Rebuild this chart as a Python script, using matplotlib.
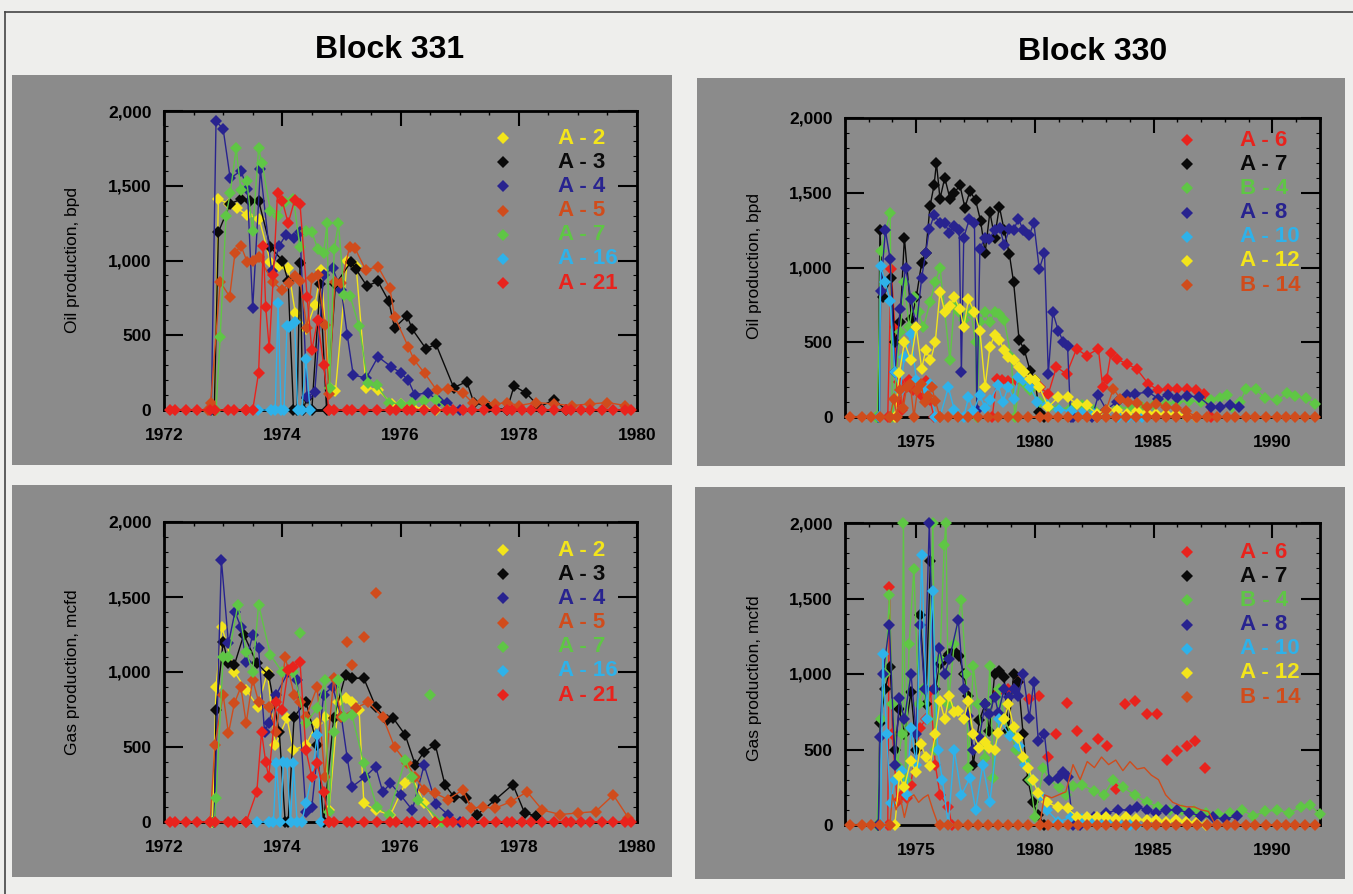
import matplotlib.pyplot as plt
from matplotlib.patches import Rectangle
from matplotlib.lines import Line2D
from matplotlib.ticker import MultipleLocator

plt.rcParams['font.family'] = ['Liberation Sans', 'DejaVu Sans']

# ---- colours of the wells
YEL = '#f3e51b'
BLK = '#0a0a0a'
NAV = '#28238f'
BRN = '#d04c1c'
GRN = '#5fc645'
CYN = '#2eb2ea'
RED = '#e8231d'

# ---- Block 331, oil (bpd)
a2_oil_t = [1972.85, 1972.92, 1973.1, 1973.23, 1973.41, 1973.61, 1973.8, 1973.95, 1974.1, 1974.22, 1974.41,
            1974.55, 1974.66, 1974.8, 1974.9, 1975.1, 1975.25, 1975.42, 1975.62, 1975.85, 1976.0, 1976.2, 1976.4, 1976.6]
a2_oil_v = [0, 1410, 1380, 1350, 1305, 1280, 990, 960, 950, 650, 545, 700, 935, 150, 130, 1000, 960, 147, 136, 40,
            40, 20, 10, 0]
a3_oil_t = [1972.85, 1972.92, 1973.12, 1973.3, 1973.45, 1973.6, 1973.8, 1974.0, 1974.1, 1974.19, 1974.25, 1974.3,
            1974.35, 1974.42, 1974.5, 1974.64, 1974.75, 1974.9, 1975.16, 1975.25, 1975.43, 1975.62, 1975.8, 1975.9,
            1976.11, 1976.2, 1976.43, 1976.6, 1976.9, 1977.12, 1977.24, 1977.5, 1977.8, 1977.92, 1978.12, 1978.35,
            1978.6, 1978.8]
a3_oil_v = [0, 1190, 1380, 1410, 1400, 1400, 1090, 1000, 860, 0, 0, 980, 0, 81, 0, 840, 0, 840, 990, 940, 830, 860,
            730, 550, 630, 540, 410, 440, 150, 190, 50, 20, 0, 160, 115, 20, 70, 0]
a4_oil_t = [1972.8, 1972.88, 1973.0, 1973.12, 1973.3, 1973.41, 1973.5, 1973.63, 1973.82, 1973.95, 1974.06, 1974.2,
            1974.3, 1974.42, 1974.55, 1974.7, 1974.85, 1975.0, 1975.1, 1975.2, 1975.42, 1975.62, 1975.84, 1976.0,
            1976.13, 1976.24, 1976.46, 1976.65, 1976.79, 1977.0]
a4_oil_v = [0, 1932, 1880, 1550, 1600, 1480, 680, 1610, 930, 1100, 1170, 1150, 1190, 88, 120, 900, 950, 800, 500,
            235, 213, 356, 290, 250, 200, 103, 114, 60, 48, 0]
a5_oil_t = [1972.75, 1972.79, 1972.95, 1973.11, 1973.2, 1973.3, 1973.41, 1973.5, 1973.6, 1973.84, 1974.0, 1974.11,
            1974.21, 1974.3, 1974.42, 1974.5, 1974.6, 1974.72, 1974.79, 1974.89, 1975.0, 1975.14, 1975.23, 1975.41,
            1975.62, 1975.82, 1975.9, 1976.13, 1976.23, 1976.41, 1976.61, 1976.8, 1977.06, 1977.23, 1977.4, 1977.6,
            1977.8, 1978.0, 1978.3, 1978.6, 1978.9, 1979.2, 1979.5, 1979.8]
a5_oil_v = [0, 50, 858, 758, 1048, 1100, 988, 1000, 1026, 858, 800, 847, 896, 860, 546, 880, 900, 570, 110, 858,
            850, 1093, 1082, 937, 959, 814, 625, 424, 335, 245, 134, 140, 112, 45, 60, 40, 50, 30, 50, 40, 30, 40,
            50, 30]
a7_oil_t = [1972.88, 1972.95, 1973.05, 1973.12, 1973.22, 1973.3, 1973.4, 1973.5, 1973.6, 1973.66, 1973.8, 1973.92,
            1974.05, 1974.19, 1974.3, 1974.4, 1974.5, 1974.6, 1974.7, 1974.76, 1974.8, 1974.88, 1974.95, 1975.05,
            1975.15, 1975.3, 1975.45, 1975.6, 1975.8, 1976.0, 1976.2, 1976.4, 1976.6, 1976.8]
a7_oil_v = [0, 490, 1300, 1450, 1750, 1470, 1530, 1200, 1750, 1650, 1330, 1300, 1390, 1410, 1090, 1200, 1190, 1080,
            1050, 1250, 150, 1080, 1250, 770, 760, 560, 180, 170, 50, 40, 50, 60, 70, 0]
a16_oil_t = [1973.59, 1973.81, 1973.88, 1973.93, 1973.98, 1974.03, 1974.08, 1974.12, 1974.21, 1974.26, 1974.33,
             1974.4, 1974.47]
a16_oil_v = [0, 0, 0, 713, 0, 0, 560, 557, 590, 0, 0, 340, 0]
a21_oil_t = [1973.39, 1973.5, 1973.6, 1973.68, 1973.72, 1973.78, 1973.85, 1973.92, 1974.0, 1974.1, 1974.21, 1974.3,
             1974.42, 1974.5, 1974.6, 1974.7, 1974.79]
a21_oil_v = [0, 0, 250, 1100, 690, 412, 900, 1449, 1400, 1249, 1405, 1380, 758, 400, 602, 300, 0]

# ---- Block 331, gas (mcfd)
a2_gas_t = [1972.82, 1972.88, 1972.98, 1973.19, 1973.39, 1973.59, 1973.75, 1973.88, 1974.08, 1974.19, 1974.4,
            1974.59, 1974.72, 1974.79, 1974.95, 1975.07, 1975.18, 1975.3, 1975.38, 1975.58, 1975.83, 1976.08, 1976.2,
            1976.4, 1976.6]
a2_gas_v = [0, 902, 1300, 1002, 880, 769, 1000, 513, 691, 480, 513, 658, 700, 80, 800, 824, 802, 750, 124, 80, 47,
            258, 302, 124, 0]
a3_gas_t = [1972.85, 1972.88, 1973.0, 1973.09, 1973.19, 1973.35, 1973.57, 1973.77, 1973.95, 1974.05, 1974.1, 1974.2,
            1974.4, 1974.59, 1974.7, 1974.87, 1975.07, 1975.18, 1975.38, 1975.58, 1975.77, 1975.88, 1976.08, 1976.25,
            1976.4, 1976.59, 1976.75, 1976.9, 1977.1, 1977.3, 1977.6, 1977.9, 1978.1, 1978.3]
a3_gas_v = [0, 747, 1200, 1058, 1047, 1250, 1058, 980, 600, 0, 0, 700, 802, 513, 0, 691, 980, 958, 958, 769, 680,
            691, 580, 380, 469, 513, 250, 169, 160, 50, 147, 250, 60, 40]
a4_gas_t = [1972.85, 1972.97, 1973.09, 1973.2, 1973.3, 1973.39, 1973.5, 1973.6, 1973.7, 1973.77, 1973.9, 1974.1,
            1974.25, 1974.4, 1974.5, 1974.7, 1974.85, 1975.0, 1975.1, 1975.18, 1975.4, 1975.58, 1975.7, 1975.83,
            1976.0, 1976.2, 1976.4, 1976.6, 1976.8, 1977.0]
a4_gas_v = [0, 1750, 1191, 1400, 1300, 1069, 1250, 1158, 600, 658, 850, 1000, 950, 69, 100, 850, 900, 700, 424,
            235, 300, 369, 200, 258, 180, 80, 380, 120, 50, 0]
a5_gas_t = [1972.78, 1972.86, 1973.0, 1973.09, 1973.19, 1973.3, 1973.39, 1973.5, 1973.6, 1973.77, 1973.9, 1974.05,
            1974.2, 1974.3, 1974.4, 1974.59, 1974.72, 1974.87, 1975.0, 1975.25, 1975.45, 1975.7, 1975.9, 1976.11,
            1976.25, 1976.4, 1976.59, 1976.8, 1977.05, 1977.2, 1977.4, 1977.6, 1977.87, 1978.14, 1978.4, 1978.7,
            1979.0, 1979.3, 1979.6, 1979.85]
a5_gas_v = [0, 513, 850, 591, 791, 900, 658, 950, 800, 770, 600, 1100, 850, 800, 700, 900, 300, 958, 700, 760, 800,
            700, 500, 391, 300, 213, 191, 150, 213, 92, 100, 92, 136, 202, 80, 50, 60, 70, 180, 30]
a5_gas_pts_t = [1975.1, 1975.18, 1975.38, 1975.58]
a5_gas_pts_v = [1202, 1047, 1236, 1524]
a7_gas_t = [1972.85, 1972.88, 1973.0, 1973.09, 1973.25, 1973.39, 1973.5, 1973.6, 1973.8, 1974.0, 1974.19, 1974.4,
            1974.59, 1974.72, 1974.79, 1974.87, 1974.95, 1975.05, 1975.18, 1975.38, 1975.6, 1975.8, 1976.08, 1976.2,
            1976.3, 1976.7]
a7_gas_v = [0, 158, 1100, 1102, 1450, 1135, 1000, 1450, 1113, 1000, 1000, 658, 758, 950, 69, 602, 950, 700, 713,
            391, 100, 50, 413, 300, 150, 0]
a7_gas_pts_t = [1974.3, 1976.5]
a7_gas_pts_v = [1257, 844]
a16_gas_t = [1973.57, 1973.77, 1973.85, 1973.9, 1973.97, 1974.02, 1974.08, 1974.14, 1974.19, 1974.25, 1974.33,
             1974.4, 1974.5, 1974.59, 1974.66]
a16_gas_v = [0, 0, 0, 391, 0, 400, 391, 0, 391, 0, 0, 124, 300, 580, 0]
a21_gas_t = [1973.39, 1973.57, 1973.65, 1973.72, 1973.77, 1973.9, 1974.0, 1974.1, 1974.19, 1974.3, 1974.4, 1974.5,
             1974.59, 1974.7, 1974.79]
a21_gas_v = [0, 202, 600, 400, 302, 802, 750, 1013, 1035, 1070, 480, 300, 391, 200, 0]

# ---- Block 330, oil (bpd)
a6_oil_t = [1973.8, 1973.94, 1974.1, 1974.2, 1974.29, 1974.4, 1974.55, 1974.7, 1974.85, 1975.0, 1975.2, 1975.4,
            1975.58, 1975.75, 1978.2, 1978.39, 1978.6, 1978.88, 1979.2, 1979.5, 1979.8, 1980.2, 1980.56, 1980.9,
            1981.33, 1981.75, 1982.17, 1982.67, 1982.85, 1983.02, 1983.2, 1983.44, 1983.86, 1984.28, 1984.77, 1985.2,
            1985.6, 1985.96, 1986.4, 1986.8, 1987.1, 1987.4]
a6_oil_v = [0, 993, 600, 100, 233, 50, 200, 250, 180, 230, 150, 240, 111, 0, 0, 255, 250, 244, 250, 260, 240, 200,
            155, 333, 289, 455, 411, 455, 200, 255, 430, 389, 355, 322, 222, 178, 189, 189, 189, 180, 157, 0]
a7b_oil_t = [1973.4, 1973.47, 1973.6, 1973.94, 1974.1, 1974.32, 1974.5, 1974.8, 1975.0, 1975.23, 1975.4, 1975.58,
             1975.75, 1975.85, 1976.0, 1976.2, 1976.42, 1976.6, 1976.84, 1977.05, 1977.26, 1977.5, 1977.71, 1977.9,
             1978.1, 1978.3, 1978.5, 1978.7, 1978.92, 1979.1, 1979.33, 1979.55, 1979.79, 1980.0, 1980.18, 1980.4]
a7b_oil_v = [0, 1250, 800, 929, 500, 638, 1200, 656, 800, 1033, 1100, 1411, 1550, 1700, 1460, 1600, 1460, 1500,
             1549, 1400, 1511, 1450, 1311, 1100, 1371, 1200, 1407, 1250, 1089, 900, 516, 450, 311, 250, 33, 0]
b4_oil_t = [1973.3, 1973.36, 1973.5, 1973.9, 1974.0, 1974.32, 1974.5, 1974.7, 1974.9, 1975.1, 1975.3, 1975.58,
            1975.8, 1976.0, 1976.2, 1976.42, 1976.6, 1976.8, 1977.0, 1977.3, 1977.5, 1977.55, 1977.68, 1977.9, 1978.1,
            1978.3, 1978.5, 1978.7, 1979.0, 1979.15, 1979.37, 1979.6, 1979.8, 1980.2, 1980.6, 1980.98, 1981.5, 1982.0,
            1982.5, 1983.0, 1983.5, 1984.0, 1984.5, 1985.0, 1985.5, 1986.0, 1986.5, 1987.0, 1987.4, 1987.8, 1988.1,
            1988.3, 1988.63, 1988.9, 1989.3, 1989.7, 1990.2, 1990.6, 1990.95, 1991.4, 1991.8]
b4_oil_v = [0, 0, 1111, 1367, 0, 567, 900, 600, 800, 700, 600, 767, 900, 1000, 700, 378, 750, 700, 650, 700, 500,
            0, 633, 700, 633, 700, 689, 650, 400, 0, 255, 220, 180, 100, 70, 56, 60, 80, 50, 40, 60, 60, 70, 80, 90,
            100, 110, 100, 113, 130, 147, 70, 103, 190, 185, 124, 114, 158, 141, 125, 88]
a8_oil_t = [1973.45, 1973.5, 1973.7, 1973.9, 1974.1, 1974.32, 1974.55, 1974.78, 1975.0, 1975.23, 1975.4, 1975.55,
            1975.75, 1976.0, 1976.2, 1976.4, 1976.6, 1976.81, 1976.9, 1977.0, 1977.24, 1977.45, 1977.55, 1977.68,
            1977.9, 1978.08, 1978.3, 1978.52, 1978.7, 1978.92, 1979.1, 1979.3, 1979.5, 1979.76, 1979.95, 1980.18,
            1980.4, 1980.56, 1980.75, 1980.98, 1981.2, 1981.37, 1981.5, 1981.6, 1982.4, 1982.67, 1983.0, 1983.44,
            1983.86, 1984.2, 1984.77, 1985.2, 1985.6, 1986.0, 1986.4, 1986.9, 1987.4, 1987.8, 1988.2, 1988.6]
a8_oil_v = [0, 844, 1250, 1055, 300, 722, 1000, 789, 600, 933, 1100, 1255, 1350, 1300, 1300, 1229, 1280, 1251, 300,
            1200, 1326, 1300, 50, 1127, 1200, 1193, 1250, 1267, 1150, 1260, 1250, 1326, 1250, 1215, 1300, 989, 1100,
            289, 700, 578, 500, 478, 0, 0, 0, 144, 50, 100, 144, 155, 167, 122, 150, 130, 140, 135, 70, 70, 80, 70]
a10_oil_t = [1973.45, 1973.5, 1973.7, 1973.9, 1974.1, 1974.32, 1974.5, 1974.78, 1975.0, 1975.23, 1975.4, 1975.6,
             1975.8, 1976.0, 1976.35, 1976.6, 1976.8, 1977.0, 1977.2, 1977.4, 1977.68, 1977.9, 1978.1, 1978.45,
             1978.65, 1978.87, 1979.1, 1979.3, 1979.5, 1979.8, 1980.1, 1980.5, 1981.0, 1981.5, 1982.0, 1982.5, 1983.0,
             1983.5, 1983.9, 1984.2, 1984.5]
a10_oil_v = [0, 1007, 900, 778, 300, 171, 400, 556, 250, 200, 180, 220, 0, 0, 200, 50, 0, 0, 133, 40, 144, 60, 111,
             211, 100, 200, 120, 267, 250, 200, 100, 80, 50, 40, 30, 20, 10, 0, 0, 0, 0]
a12_oil_t = [1974.1, 1974.29, 1974.5, 1974.78, 1975.0, 1975.23, 1975.4, 1975.6, 1975.8, 1976.0, 1976.2, 1976.42,
             1976.6, 1976.84, 1977.0, 1977.2, 1977.45, 1977.68, 1977.9, 1978.1, 1978.3, 1978.5, 1978.7, 1978.88,
             1979.1, 1979.34, 1979.55, 1979.79, 1980.0, 1980.18, 1980.56, 1980.98, 1981.37, 1981.75, 1982.17, 1982.6,
             1983.02, 1983.44, 1983.86, 1984.28, 1984.7, 1985.1, 1985.5, 1985.95, 1986.35, 1986.8]
a12_oil_v = [0, 295, 500, 378, 600, 322, 450, 378, 500, 838, 700, 744, 800, 722, 600, 789, 700, 578, 200, 467, 550,
             515, 450, 404, 380, 333, 300, 255, 250, 200, 67, 133, 133, 89, 78, 22, 50, 44, 20, 40, 30, 20, 20, 20,
             10, 0]
b14_oil_t = [1973.89, 1974.05, 1974.2, 1974.32, 1974.45, 1974.6, 1974.75, 1974.9, 1975.05, 1975.2, 1975.35, 1975.5,
             1975.65, 1975.8, 1976.0, 1982.6, 1983.0, 1983.3, 1983.6, 1983.9, 1984.3, 1984.7, 1985.1, 1985.5, 1985.95,
             1986.35, 1986.8]
b14_oil_v = [0, 120, 0, 180, 60, 200, 220, 0, 180, 220, 100, 140, 200, 110, 0, 0, 50, 190, 120, 100, 92, 70, 90, 70,
             60, 40, 0]

# ---- Block 330, gas (mcfd)
a6_gas_t = [1973.8, 1973.87, 1974.0, 1974.2, 1974.4, 1974.6, 1974.76, 1975.0, 1975.16, 1975.4, 1975.6, 1975.8,
            1976.0, 1976.35, 1976.5]
a6_gas_v = [0, 1573, 600, 150, 200, 180, 262, 500, 644, 700, 889, 400, 200, 120, 0]
a6_gas_pts_t = [1978.46, 1978.88, 1979.27, 1979.76, 1980.18, 1980.56, 1980.9, 1981.33, 1981.75, 1982.13, 1982.64,
                1983.02, 1983.4, 1983.79, 1984.2, 1984.7, 1985.12, 1985.54, 1985.96, 1986.39, 1986.74, 1987.15]
a6_gas_pts_v = [878, 900, 944, 833, 856, 449, 604, 811, 622, 507, 571, 522, 240, 804, 822, 738, 738, 433, 489, 522,
                556, 378]
a7b_gas_t = [1973.4, 1973.47, 1973.7, 1973.9, 1974.1, 1974.29, 1974.5, 1974.78, 1975.0, 1975.16, 1975.4, 1975.6,
             1975.8, 1976.0, 1976.2, 1976.39, 1976.6, 1976.81, 1977.0, 1977.19, 1977.4, 1977.66, 1977.9, 1978.08,
             1978.3, 1978.5, 1978.7, 1978.88, 1979.1, 1979.3, 1979.5, 1979.7, 1979.9, 1980.14, 1980.4]
a7b_gas_v = [0, 678, 900, 1044, 500, 771, 600, 878, 500, 1389, 800, 1751, 900, 1067, 1100, 1133, 1150, 1116, 1000,
             855, 400, 693, 800, 622, 1000, 1020, 980, 622, 1000, 950, 600, 300, 150, 67, 0]
b4_gas_t = [1973.35, 1973.5, 1973.7, 1973.87, 1974.0, 1974.2, 1974.4, 1974.46, 1974.55, 1974.7, 1974.9, 1975.1,
            1975.3, 1975.5, 1975.7, 1975.8, 1976.0, 1976.18, 1976.25, 1976.35, 1976.6, 1976.9, 1977.1, 1977.19,
            1977.4, 1977.6, 1977.9, 1978.1, 1978.25, 1978.5, 1978.7, 1979.0, 1979.2, 1979.58, 1979.8, 1980.0, 1980.35,
            1980.6, 1981.0, 1981.3, 1981.6, 1982.0, 1982.5, 1982.9, 1983.3, 1983.7, 1984.2, 1984.7, 1985.2, 1985.7,
            1986.2, 1986.7, 1987.2, 1987.7, 1988.2, 1988.7, 1989.2, 1989.7, 1990.2, 1990.7, 1991.2, 1991.6, 1992.0]
b4_gas_v = [0, 700, 1000, 1522, 800, 400, 600, 2000, 300, 1200, 1693, 800, 900, 700, 2000, 500, 1100, 1856, 2000,
            800, 1200, 1490, 1000, 378, 1050, 800, 444, 1050, 311, 900, 700, 600, 500, 427, 300, 50, 378, 300, 250,
            200, 256, 267, 222, 200, 300, 250, 200, 150, 120, 100, 100, 90, 80, 70, 80, 100, 60, 90, 100, 80, 120,
            130, 70]
a8_gas_t = [1973.4, 1973.47, 1973.6, 1973.87, 1974.1, 1974.29, 1974.5, 1974.78, 1975.0, 1975.16, 1975.35, 1975.55,
            1975.75, 1975.97, 1976.2, 1976.4, 1976.77, 1977.0, 1977.19, 1977.4, 1977.66, 1977.9, 1978.08, 1978.3,
            1978.46, 1978.7, 1978.9, 1979.1, 1979.3, 1979.5, 1979.76, 1979.95, 1980.14, 1980.4, 1980.6, 1980.98,
            1981.2, 1981.37, 1981.6, 1981.9, 1982.5, 1983.0, 1983.5, 1984.0, 1984.28, 1984.7, 1985.1, 1985.5, 1986.0,
            1986.5, 1987.0, 1987.5, 1988.0, 1988.5]
a8_gas_v = [0, 582, 1000, 1322, 400, 840, 700, 1000, 600, 1322, 900, 2000, 900, 1173, 1000, 1100, 1360, 900, 722,
            500, 582, 800, 733, 850, 744, 900, 850, 900, 851, 1000, 711, 950, 556, 600, 300, 311, 350, 316, 0, 0, 50,
            80, 100, 100, 122, 100, 80, 100, 100, 80, 60, 50, 40, 60]
a10_gas_t = [1973.5, 1973.59, 1973.75, 1973.92, 1974.1, 1974.39, 1974.6, 1974.78, 1975.0, 1975.23, 1975.45, 1975.69,
             1975.9, 1976.1, 1976.35, 1976.6, 1976.9, 1977.26, 1977.5, 1977.8, 1978.1, 1978.5, 1978.95, 1979.34,
             1979.6, 1979.9, 1980.2, 1980.5, 1980.98, 1981.5, 1982.0, 1982.5, 1983.0, 1983.5, 1984.0, 1984.3]
a10_gas_v = [0, 1133, 600, 144, 300, 356, 200, 644, 400, 1789, 700, 1549, 500, 300, 0, 500, 200, 311, 100, 400, 150,
             700, 589, 522, 400, 300, 200, 100, 22, 50, 40, 30, 20, 10, 0, 0]
a12_gas_t = [1974.1, 1974.29, 1974.5, 1974.76, 1975.0, 1975.2, 1975.4, 1975.58, 1975.8, 1976.0, 1976.2, 1976.39,
             1976.6, 1976.77, 1977.0, 1977.19, 1977.4, 1977.66, 1977.9, 1978.08, 1978.3, 1978.46, 1978.7, 1978.88,
             1979.1, 1979.27, 1979.5, 1979.72, 1979.9, 1980.14, 1980.5, 1980.98, 1981.37, 1981.75, 1982.17, 1982.6,
             1983.0, 1983.4, 1983.85, 1984.25, 1984.7, 1985.1, 1985.5, 1985.95, 1986.35, 1986.8, 1987.2]
a12_gas_v = [0, 322, 250, 422, 350, 538, 450, 389, 600, 822, 700, 855, 750, 756, 700, 818, 600, 511, 550, 511, 500,
             611, 700, 800, 650, 578, 450, 378, 300, 211, 150, 116, 111, 56, 56, 56, 50, 40, 50, 40, 30, 30, 20, 30,
             20, 10, 0]
b14_gas_t = [1973.89, 1974.0, 1974.15, 1974.32, 1974.5, 1974.7, 1974.9, 1975.1, 1975.3, 1975.5, 1975.7, 1975.93,
             1980.2, 1980.4, 1980.7, 1981.0, 1981.3, 1981.6, 1981.9, 1982.2, 1982.5, 1982.8, 1983.1, 1983.4, 1983.7,
             1984.0, 1984.3, 1984.6, 1984.9, 1985.2, 1985.5, 1985.8, 1986.1, 1986.4, 1986.7, 1987.0, 1987.3, 1987.6]
b14_gas_v = [0, 200, 100, 189, 50, 180, 200, 150, 180, 200, 100, 0, 0, 200, 180, 200, 220, 400, 300, 420, 380, 450,
             400, 430, 360, 420, 370, 380, 330, 300, 200, 150, 130, 120, 120, 100, 90, 0]

# zero readings along the base line (dates of the shut-in markers)
base331_a = [1972.10, 1972.19, 1972.37, 1972.56, 1972.77, 1972.86, 1973.09, 1973.18, 1973.39]
base331_b = [1974.79, 1974.87, 1975.10, 1975.18, 1975.38, 1975.60, 1975.83, 1975.92, 1976.11, 1976.20, 1976.40,
             1976.59, 1976.79, 1976.88, 1977.05, 1977.21, 1977.41, 1977.61, 1977.80, 1977.88, 1978.05, 1978.20,
             1978.40, 1978.60, 1978.80, 1978.88, 1979.05, 1979.20, 1979.40, 1979.60, 1979.80, 1979.90]
base330_a = [1972.21, 1972.70, 1973.08, 1973.47, 1973.89]
base330_b = [1976.00, 1976.35, 1976.77, 1977.19, 1977.61, 1978.04, 1978.46, 1978.88, 1979.30, 1979.72, 1980.21,
             1980.56, 1980.98, 1981.40, 1981.82, 1982.18, 1982.60, 1983.00, 1983.40, 1983.85, 1984.25, 1984.70,
             1985.10, 1985.50, 1985.95, 1986.39, 1986.81, 1987.23, 1987.65, 1988.07, 1988.42, 1988.88, 1989.26,
             1989.73, 1990.17, 1990.57, 1990.95, 1991.37, 1991.79]

wells331 = ['A - 2', 'A - 3', 'A - 4', 'A - 5', 'A - 7', 'A - 16', 'A - 21']
cols331 = [YEL, BLK, NAV, BRN, GRN, CYN, RED]
wells330 = ['A - 6', 'A - 7', 'B - 4', 'A - 8', 'A - 10', 'A - 12', 'B - 14']
cols330 = [RED, BLK, GRN, NAV, CYN, YEL, BRN]

yticks = [0, 500, 1000, 1500, 2000]
ylabels = ['0', '500', '1,000', '1,500', '2,000']

W, H = 1353, 894


def fx(x):
    return x / W


def fy(y):
    return 1 - y / H


fig = plt.figure(figsize=(W / 100, H / 100), dpi=100)
fig.patch.set_facecolor('#eeeeec')

# frame of the page
fig.add_artist(Line2D([fx(5), fx(5)], [fy(12), 0], transform=fig.transFigure, color='#444444', lw=1.2))
fig.add_artist(Line2D([fx(5), 1], [fy(12), fy(12)], transform=fig.transFigure, color='#444444', lw=1.2))

# grey panels
for (x0, y0, x1, y1) in [(12, 75, 672, 465), (697, 78, 1345, 466), (12, 485, 672, 877), (695, 487, 1345, 879)]:
    fig.add_artist(Rectangle((fx(x0), fy(y1)), (x1 - x0) / W, (y1 - y0) / H, transform=fig.transFigure,
                             facecolor='#8b8b8b', edgecolor='none', zorder=-5))

fig.text(fx(390), fy(50), 'Block 331', ha='center', va='center', fontsize=23, fontweight='bold')
fig.text(fx(1093), fy(52), 'Block 330', ha='center', va='center', fontsize=23, fontweight='bold')


def make_axes(l, t, r, b, xlim, xmajor, xminor):
    ax = fig.add_axes([fx(l), fy(b), (r - l) / W, (b - t) / H])
    ax.patch.set_visible(False)
    ax.set_xlim(*xlim)
    ax.set_ylim(0, 2000)
    for s in ax.spines.values():
        s.set_linewidth(2)
    ax.set_xticks(xmajor)
    ax.set_xticklabels([str(y) for y in xmajor])
    ax.xaxis.set_minor_locator(MultipleLocator(xminor))
    ax.set_yticks(yticks)
    ax.set_yticklabels(ylabels)
    ax.yaxis.set_minor_locator(MultipleLocator(100))
    ax.tick_params(axis='x', which='major', direction='in', top=True, bottom=False, length=11, width=1.5, pad=13)
    ax.tick_params(axis='x', which='minor', direction='in', top=True, bottom=False, length=3, width=1)
    ax.tick_params(axis='y', which='major', direction='in', left=True, right=True, length=14, width=1.5, pad=9)
    ax.tick_params(axis='y', which='minor', direction='in', left=True, right=True, length=3, width=0.8)
    for lbl in ax.get_xticklabels() + ax.get_yticklabels():
        lbl.set_fontweight('bold')
        lbl.set_fontsize(12.5)
    return ax


def series(ax, t, v, color, line=True, marks=True):
    ax.plot(t, v, color=color, lw=1.0 if line else 0, linestyle='-' if line else 'none',
            marker='D' if marks else None, ms=6, mew=0, clip_on=False, zorder=3)


def baseline(ax, pieces, color):
    for p in pieces:
        ax.plot(p, [0] * len(p), color=color, lw=1.2, marker='D', ms=6.5, mew=0, clip_on=False, zorder=4)


def legend(mx, tx, y0, names, cols):
    for i, (n, c) in enumerate(zip(names, cols)):
        y = y0 + i * 24.2
        fig.add_artist(Line2D([fx(mx)], [fy(y)], marker='D', ms=6.5, mew=0, color=c, transform=fig.transFigure))
        fig.text(fx(tx), fy(y), n, color=c, fontsize=16, fontweight='bold', ha='left', va='center')


# ---- top left: Block 331 oil
ax = make_axes(164, 111, 637, 410, (1972, 1980), [1972, 1974, 1976, 1978, 1980], 0.5)
series(ax, a2_oil_t, a2_oil_v, YEL)
series(ax, a3_oil_t, a3_oil_v, BLK)
series(ax, a4_oil_t, a4_oil_v, NAV)
series(ax, a5_oil_t, a5_oil_v, BRN)
series(ax, a7_oil_t, a7_oil_v, GRN)
series(ax, a16_oil_t, a16_oil_v, CYN)
series(ax, a21_oil_t, a21_oil_v, RED)
baseline(ax, [base331_a, base331_b], RED)
fig.text(fx(72), fy(260), 'Oil production, bpd', rotation=90, ha='center', va='center', fontsize=12.5)
legend(503, 558, 138, wells331, cols331)

# ---- bottom left: Block 331 gas
ax = make_axes(164, 522, 637, 822, (1972, 1980), [1972, 1974, 1976, 1978, 1980], 0.5)
series(ax, a2_gas_t, a2_gas_v, YEL)
series(ax, a3_gas_t, a3_gas_v, BLK)
series(ax, a4_gas_t, a4_gas_v, NAV)
series(ax, a5_gas_t, a5_gas_v, BRN)
series(ax, a5_gas_pts_t, a5_gas_pts_v, BRN, line=False)
series(ax, a7_gas_t, a7_gas_v, GRN)
series(ax, a7_gas_pts_t, a7_gas_pts_v, GRN, line=False)
series(ax, a16_gas_t, a16_gas_v, CYN)
series(ax, a21_gas_t, a21_gas_v, RED)
baseline(ax, [base331_a, base331_b], RED)
fig.text(fx(72), fy(672), 'Gas production, mcfd', rotation=90, ha='center', va='center', fontsize=12.5)
legend(503, 558, 550, wells331, cols331)

# ---- top right: Block 330 oil
ax = make_axes(845, 118, 1320, 417, (1972, 1992), [1975, 1980, 1985, 1990], 1)
series(ax, a6_oil_t, a6_oil_v, RED)
series(ax, a7b_oil_t, a7b_oil_v, BLK)
series(ax, b4_oil_t, b4_oil_v, GRN)
series(ax, a8_oil_t, a8_oil_v, NAV)
series(ax, a10_oil_t, a10_oil_v, CYN)
series(ax, a12_oil_t, a12_oil_v, YEL)
series(ax, b14_oil_t, b14_oil_v, BRN)
baseline(ax, [base330_a, base330_b], BRN)
fig.text(fx(755), fy(266), 'Oil production, bpd', rotation=90, ha='center', va='center', fontsize=12.5)
legend(1187, 1240, 140, wells330, cols330)

# ---- bottom right: Block 330 gas
ax = make_axes(845, 523, 1320, 825, (1972, 1992), [1975, 1980, 1985, 1990], 1)
series(ax, a6_gas_t, a6_gas_v, RED)
series(ax, a6_gas_pts_t, a6_gas_pts_v, RED, line=False)
series(ax, a7b_gas_t, a7b_gas_v, BLK)
series(ax, b4_gas_t, b4_gas_v, GRN)
series(ax, a8_gas_t, a8_gas_v, NAV)
series(ax, a10_gas_t, a10_gas_v, CYN)
series(ax, a12_gas_t, a12_gas_v, YEL)
series(ax, b14_gas_t, b14_gas_v, BRN, marks=False)
baseline(ax, [base330_a, base330_b], BRN)
fig.text(fx(755), fy(678), 'Gas production, mcfd', rotation=90, ha='center', va='center', fontsize=12.5)
legend(1187, 1240, 552, wells330, cols330)

plt.savefig('out.png', dpi=100, facecolor=fig.get_facecolor())
